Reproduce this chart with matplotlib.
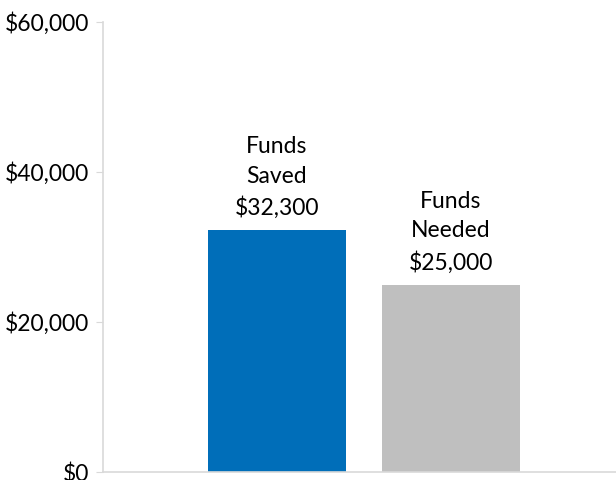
import matplotlib.pyplot as plt
from matplotlib.ticker import FuncFormatter

plt.rcParams['font.family'] = ['Lato', 'DejaVu Sans']

categories = ['Funds\nSaved', 'Funds\nNeeded']
values = [32300, 25000]
colors = ['#006EB9', '#BFBFBF']
yticks = [0, 20000, 40000, 60000]

fig = plt.figure(figsize=(6.16, 4.8), dpi=100)
ax = fig.add_axes([103 / 616, 8 / 480, 513 / 616, 450 / 480])

x = list(range(len(values)))
ax.bar(x, values, width=0.795, color=colors)

for xi, cat, v in zip(x, categories, values):
    ax.annotate(f'{cat}\n${v:,.0f}', (xi, v), xytext=(0, 8), textcoords='offset points',
                ha='center', va='bottom', fontsize=16.5, linespacing=1.5, color='#000000')

ax.set_xlim(-1.0, 1.95)
ax.set_ylim(0, 60000)
ax.set_yticks(yticks)
ax.yaxis.set_major_formatter(FuncFormatter(lambda v, p: f'${v:,.0f}'))
ax.set_xticks([])
ax.tick_params(axis='y', labelsize=16.5, length=5, color='#D9D9D9', pad=5)

for side in ['top', 'right']:
    ax.spines[side].set_visible(False)
for side in ['left', 'bottom']:
    ax.spines[side].set_color('#D9D9D9')
    ax.spines[side].set_linewidth(1.2)

fig.savefig('out.png', dpi=100)
